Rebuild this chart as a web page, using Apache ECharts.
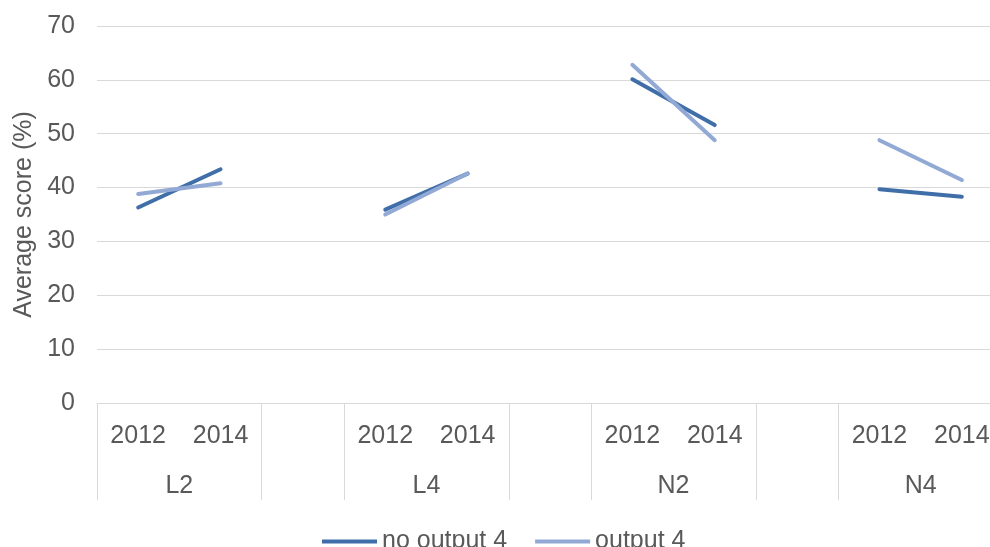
<!DOCTYPE html>
<html>
<head>
<meta charset="utf-8">
<script src="https://cdn.jsdelivr.net/npm/echarts@6/dist/echarts.min.js"></script>
<style>html,body{margin:0;padding:0;background:#fff;}#c{width:990px;height:547px;}</style>
</head>
<body>
<div id="c"></div>
<script>
const years = ['2012', '2014', '', '2012', '2014', '', '2012', '2014', '', '2012', '2014'];
const groups = ['L2', 'L4', 'N2', 'N4'];
const noOutput4 = [36.3, 43.4, null, 35.9, 42.6, null, 60.1, 51.6, null, 39.7, 38.3];
const output4 = [38.8, 40.8, null, 35.0, 42.6, null, 62.8, 48.8, null, 48.8, 41.4];
const seriesNames = ['no output 4', 'output 4'];
const yMin = 0, yMax = 70, yStep = 10;

// half-slot axis for group labels and separators (23 boundary points)
const groupSlots = [];
for (let i = 0; i <= years.length * 2; i++) groupSlots.push('');
groups.forEach((g, k) => { groupSlots[2 + 6 * k] = g; });

const txt = '#595959';
const font = 'Arial, "Liberation Sans", sans-serif';
const lineIcon = 'path://M0,0 L55,0 L55,4 L0,4 Z';
const chart = echarts.init(document.getElementById('c'), null, {renderer: 'canvas'});
chart.setOption({
  animation: false,
  backgroundColor: '#ffffff',
  textStyle: {fontFamily: font},
  grid: {left: 97, right: -13, top: 26, bottom: 144, containLabel: false, outerBoundsMode: 'none'},
  legend: {
    data: seriesNames.map(n => ({name: n, icon: lineIcon})),
    left: 317, top: 524,
    itemWidth: 55, itemHeight: 4, itemGap: 28,
    textStyle: {color: txt, fontSize: 25, fontFamily: font}
  },
  xAxis: [
    {
      type: 'category', data: years, boundaryGap: true, position: 'bottom',
      axisLine: {show: true, onZero: false, lineStyle: {color: '#d9d9d9', width: 1}},
      axisTick: {show: false},
      axisLabel: {color: txt, fontSize: 25, margin: 21, interval: 0, fontFamily: font},
      splitLine: {show: false}
    },
    {
      type: 'category', data: groupSlots, boundaryGap: false, position: 'bottom',
      axisLine: {show: false, onZero: false},
      axisTick: {show: true, length: 97, interval: (i) => (i % 6 === 0 || i % 6 === 4),
                 lineStyle: {color: '#d9d9d9', width: 1}},
      axisLabel: {color: txt, fontSize: 25, margin: 71, interval: 0, fontFamily: font},
      splitLine: {show: false}
    }
  ],
  yAxis: {
    type: 'value', min: yMin, max: yMax, interval: yStep,
    name: 'Average score (%)', nameLocation: 'middle', nameGap: 60,
    nameTextStyle: {color: txt, fontSize: 25, fontFamily: font},
    axisLine: {show: false}, axisTick: {show: false},
    axisLabel: {color: txt, fontSize: 25, margin: 22, fontFamily: font},
    splitLine: {lineStyle: {color: '#d9d9d9', width: 1}}
  },
  series: [
    {
      name: seriesNames[0], type: 'line', xAxisIndex: 0, data: noOutput4,
      symbol: 'none', connectNulls: false,
      lineStyle: {color: '#3f6ea8', width: 4, cap: 'round'},
      itemStyle: {color: '#3f6ea8'}
    },
    {
      name: seriesNames[1], type: 'line', xAxisIndex: 0, data: output4,
      symbol: 'none', connectNulls: false,
      lineStyle: {color: '#91a9d4', width: 4, cap: 'round'},
      itemStyle: {color: '#91a9d4'}
    }
  ]
});
</script>
</body>
</html>
